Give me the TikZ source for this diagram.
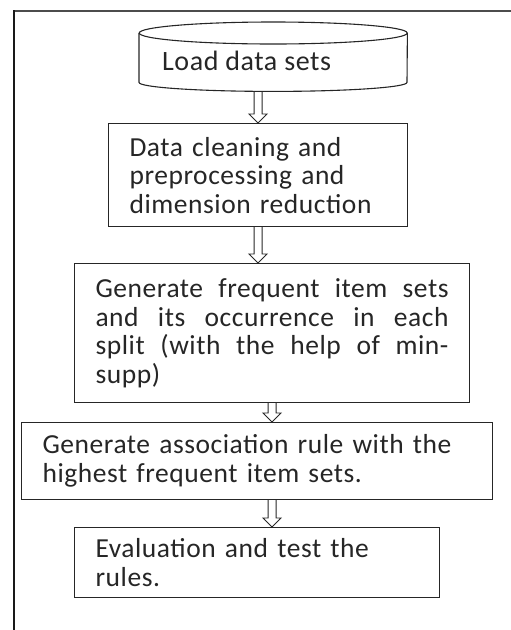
\documentclass[tikz,border=0pt]{standalone}
\usepackage{fontspec}
\setmainfont{Carlito}[LetterSpace=2]
\usetikzlibrary{calc}

\tikzset{
	box/.style={draw=black!85, line width=1.1pt, anchor=north west, inner xsep=21pt, inner ysep=0pt,
		align=left, text=black!85, font=\fontsize{27.5}{28.5}\selectfont},
	arrowline/.style={draw=black!85, line width=0.9pt},
	hollow/.style={to path={
		let \p1=(\tikztostart), \p2=(\tikztotarget) in
		(\x1-4pt,\y1) -- (\x1-4pt,\y2+9pt) -- (\x1-9pt,\y2+9pt) -- (\x1,\y2)
		-- (\x1+9pt,\y2+9pt) -- (\x1+4pt,\y2+9pt) -- (\x1+4pt,\y1)}},
}

\begin{document}
\begin{tikzpicture}[x=1pt,y=-1pt]
	\useasboundingbox (0,0) rectangle (511,630);
	
	% outer frame
	\draw [black!70, line width=1.2pt] (520,11) -- (14,11);
	\draw [black!90, line width=2pt] (14,10.4) -- (14,640);
	
	% data store
	\node [minimum width=268pt, minimum height=69pt, inner sep=0pt, anchor=north west] (load) at (139,22) {};
	\draw [black!85, line width=1.1pt] ([yshift=-11pt]load.north) ellipse [x radius=134pt, y radius=11pt];
	\draw [black!85, line width=1.1pt] ([yshift=-11pt]load.north west) -- ([yshift=9pt]load.south west)
		arc [start angle=180, end angle=360, x radius=134pt, y radius=9pt] -- ([yshift=-11pt]load.north east);
	\node [anchor=base west, inner sep=0pt, text=black!85, font=\fontsize{28}{30}\selectfont] (loadtext) at (162,70) {Load data sets};
	
	\node [box, text width=257pt, minimum height=103pt] (clean) at (108,123)
		{Data cleaning and\\preprocessing and\\dimension reduction};
	\node [box, text width=353pt, minimum height=139pt] (freq) at (74,263)
		{\makebox[353pt][l]{Generate\hfill frequent\hfill item\hfill sets}\\
		 \makebox[353pt][l]{and\hfill its\hfill occurrence\hfill in\hfill each}\\
		 \makebox[353pt][l]{split\hfill (with\hfill the\hfill help\hfill of\hfill min-}\\
		 supp)};
	\node [box, text width=429pt, minimum height=77pt] (rule) at (21,422)
		{Generate association rule with the\\highest frequent item sets.};
	\node [box, text width=323pt, minimum height=70pt] (eval) at (74,527)
		{Evaluation and test the\\rules.};
	
	% arrows
	\draw [arrowline] (load.south -| clean.north) to[hollow] (clean.north);
	\draw [arrowline] (clean.south) to[hollow] (freq.north -| clean.south);
	\draw [arrowline] (freq.south) to[hollow] (rule.north -| freq.south);
	\draw [arrowline] (rule.south -| freq.south) to[hollow] (eval.north -| freq.south);
\end{tikzpicture}
\end{document}
